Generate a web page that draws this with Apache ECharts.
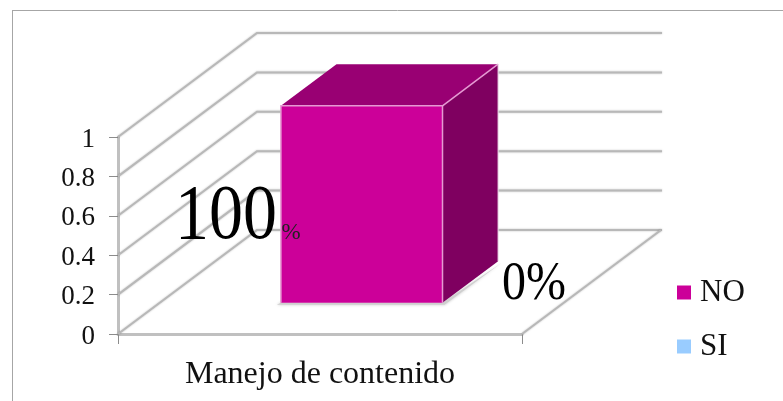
<!DOCTYPE html>
<html>
<head>
<meta charset="utf-8">
<style>html,body{margin:0;padding:0;background:#fff}#c{width:783px;height:401px}</style>
<script src="https://cdn.jsdelivr.net/npm/echarts@6/dist/echarts.min.js"></script>
</head>
<body>
<div id="c"></div>
<script>
const categories = ['Manejo de contenido'];
const seriesNO = [1];
const seriesSI = [0];
const tickValues = [0, 0.2, 0.4, 0.6, 0.8, 1];
const DEPTH_X = 139, DEPTH_Y = -104;
const SERIF = '"Liberation Serif","Times New Roman",serif';
const chart = echarts.init(document.getElementById('c'), null, {renderer: 'canvas'});
const GRID_COLOR = '#b8b8b8';
const GLOW = {shadowBlur: 2, shadowColor: 'rgba(0,0,0,0.25)'};

function wallItem(params, api) {
  const v = api.value(0);
  const p0 = api.coord([0, v]);
  const cs = params.coordSys;
  const xl = cs.x, xr = cs.x + cs.width;
  const y = p0[1];
  const children = [{
    type: 'polyline',
    shape: {points: [[xl, y], [xl + DEPTH_X, y + DEPTH_Y], [xr + DEPTH_X + 1, y + DEPTH_Y]]},
    style: {fill: null, stroke: GRID_COLOR, lineWidth: 2, ...GLOW}
  }];
  if (v === 0) {
    children.push({
      type: 'line',
      shape: {x1: xr, y1: y, x2: xr + DEPTH_X, y2: y + DEPTH_Y},
      style: {stroke: GRID_COLOR, lineWidth: 2, ...GLOW}
    });
  }
  return {type: 'group', children};
}

function barItem(params, api) {
  const v = api.value(1);
  if (!v) return {type: 'group', children: []};
  const c = api.coord([api.value(0), 0]);
  const top = api.coord([api.value(0), v]);
  const w = api.size([1, 0])[0] * 0.4;
  const dStart = 0.3, dLen = 0.4;
  const ox = DEPTH_X * dStart, oy = DEPTH_Y * dStart;
  const dx = DEPTH_X * dLen, dy = DEPTH_Y * dLen;
  const l = c[0] - w / 2 + ox, r = c[0] + w / 2 + ox;
  const b = c[1] + oy, t = top[1] + oy;
  const edge = '#e59ad2';
  return {type: 'group', children: [
    {type: 'polygon', shape: {points: [[l - 4, b + 2], [r + 2, b + 2], [r + dx + 3, b + dy + 2], [r, b], [l, b]]},
     style: {fill: '#cfcfcf', shadowBlur: 3, shadowColor: 'rgba(0,0,0,0.25)'}},
    {type: 'polygon', shape: {points: [[l, t], [l + dx, t + dy], [r + dx, t + dy], [r, t]]},
     style: {fill: '#990073'}},
    {type: 'polygon', shape: {points: [[r, t], [r + dx, t + dy], [r + dx, b + dy], [r, b]]},
     style: {fill: '#7f0060'}},
    {type: 'rect', shape: {x: l, y: t, width: r - l, height: b - t},
     style: {fill: '#cc0099'}},
    {type: 'polyline', shape: {points: [[l, b], [l, t], [r, t], [r, b]]},
     style: {fill: null, stroke: edge, lineWidth: 1.5}},
    {type: 'line', shape: {x1: r, y1: t, x2: r + dx, y2: t + dy},
     style: {stroke: edge, lineWidth: 1.5}},
    {type: 'polyline', shape: {points: [[r + dx, t + dy], [r + dx, b + dy]]},
     style: {fill: null, stroke: '#f0e0ec', lineWidth: 1}}
  ]};
}

function labelItem(params, api) {
  const v = api.value(1);
  const c = api.coord([api.value(0), 0]);
  const pct = Math.round(v * 100);
  if (pct > 0) {
    return {type: 'group', children: [
      {type: 'text', x: 226, y: c[1] - 77, scaleY: 1.15, style: {text: String(pct), font: '68px ' + SERIF, fill: '#000', textAlign: 'center', textVerticalAlign: 'bottom'}},
      {type: 'text', x: 291, y: c[1] - 90, style: {text: '%', font: '23px ' + SERIF, fill: '#222', textAlign: 'center', textVerticalAlign: 'bottom'}}
    ]};
  }
  return {type: 'text', x: 534, y: c[1] - 22, scaleY: 1.15, style: {text: pct + '%', font: '48px ' + SERIF, fill: '#000', textAlign: 'center', textVerticalAlign: 'bottom'}};
}

chart.setOption({
  animation: false,
  backgroundColor: '#fff',
  textStyle: {fontFamily: SERIF},
  grid: {left: 118, right: 261, top: 137, bottom: 67},
  xAxis: {
    type: 'category',
    data: categories,
    boundaryGap: true,
    axisLine: {lineStyle: {color: '#c0c0c0', width: 3}},
    axisTick: {show: true, length: 10, alignWithLabel: false, lineStyle: {color: '#8c8c8c'}},
    axisLabel: {color: '#111', fontSize: 32, fontFamily: SERIF, margin: 25}
  },
  yAxis: {
    type: 'value', min: 0, max: 1, interval: 0.2,
    axisLine: {show: true, lineStyle: {color: '#c0c0c0', width: 3}},
    axisTick: {show: true, length: 9, lineStyle: {color: '#8c8c8c'}},
    axisLabel: {fontFamily: SERIF, margin: 23,
      formatter: v => '{t|' + (Math.round(v * 10) / 10) + '}',
      rich: {t: {color: '#111', fontSize: 27, fontFamily: SERIF, padding: [5, 0, 0, 0]}}},
    splitLine: {show: false}
  },
  legend: {
    orient: 'vertical', left: 672, top: 272, itemWidth: 14, itemHeight: 14, itemGap: 23,
    data: [{name: 'NO', icon: 'rect'}, {name: 'SI', icon: 'rect'}],
    textStyle: {fontSize: 31, color: '#111', fontFamily: SERIF, padding: [0, 0, 0, 4]},
    selectedMode: false
  },
  graphic: [
    {type: 'line', shape: {x1: 12, y1: 10.5, x2: 783, y2: 10.5}, style: {stroke: '#a6a6a6', lineWidth: 1}},
    {type: 'line', shape: {x1: 12.5, y1: 10, x2: 12.5, y2: 401}, style: {stroke: '#a6a6a6', lineWidth: 1}}
  ],
  series: [
    {type: 'custom', name: 'walls', coordinateSystem: 'cartesian2d', z: 1, silent: true,
      data: tickValues.map(v => [v]), encode: {x: -1, y: 0}, renderItem: wallItem, clip: false},
    {type: 'custom', name: 'NO', coordinateSystem: 'cartesian2d', z: 3, itemStyle: {color: '#cc0099'},
      data: seriesNO.map((v, i) => [i, v]), encode: {x: 0, y: 1}, renderItem: barItem, clip: false},
    {type: 'custom', name: 'SI', coordinateSystem: 'cartesian2d', z: 3, itemStyle: {color: '#99ccff'},
      data: seriesSI.map((v, i) => [i, v]), encode: {x: 0, y: 1}, renderItem: barItem, clip: false},
    {type: 'custom', name: 'labelsNO', coordinateSystem: 'cartesian2d', z: 5,
      data: seriesNO.map((v, i) => [i, v]), encode: {x: 0, y: 1}, renderItem: labelItem, clip: false},
    {type: 'custom', name: 'labelsSI', coordinateSystem: 'cartesian2d', z: 5,
      data: seriesSI.map((v, i) => [i, v]), encode: {x: 0, y: 1}, renderItem: labelItem, clip: false}
  ]
});
</script>
</body>
</html>
